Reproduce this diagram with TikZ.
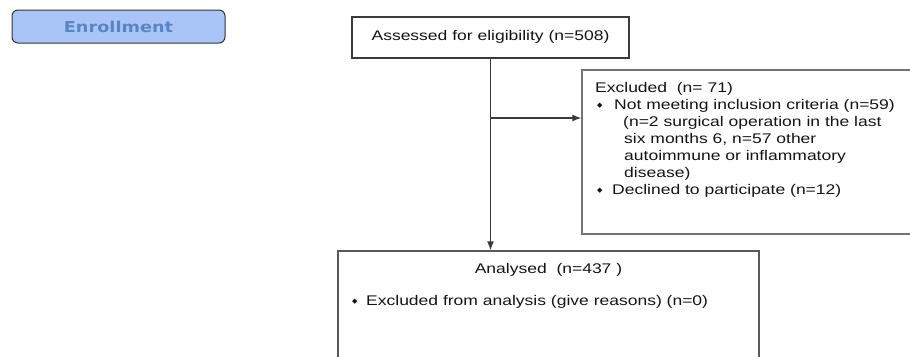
\documentclass[tikz,border=0pt]{standalone}
\usepackage{fontspec}
\usetikzlibrary{arrows.meta}
\setmainfont[FakeStretch=1.25]{Liberation Sans}
\newfontfamily\enrfont[FakeStretch=1.18]{DejaVu Sans}
\newfontfamily\djv{DejaVu Sans}
\newcommand\dbul{{\djv\fontsize{7}{7}\selectfont\raisebox{2pt}{◆}}}
\definecolor{enrfill}{HTML}{A9C5F7}
\definecolor{enrtext}{HTML}{5A84C3}
\definecolor{lineg}{HTML}{3A3A3A}
\begin{document}
\begin{tikzpicture}[x=1pt,y=-1pt,
  boxst/.style={draw=lineg,line width=1.2pt,rectangle,inner sep=0pt},
  txt/.style={anchor=base west,inner sep=0pt,font=\fontsize{14}{17}\selectfont,text=black!92},
  ctxt/.style={anchor=base,inner sep=0pt,font=\fontsize{14}{17}\selectfont,text=black!92},
  conn/.style={draw=lineg,line width=1.2pt},
  arr/.style={conn,-{Latex[length=9pt,width=7pt]}}]
\useasboundingbox (0,0) rectangle (910,356);
\clip (0,0) rectangle (910,356);
% Enrollment label
\node[draw=black!80,line width=1pt,fill=enrfill,rounded corners=6pt,minimum width=213pt,minimum height=33pt,inner sep=0pt,
      font=\enrfont\bfseries\fontsize{15}{15}\selectfont,text=enrtext] (enr) at (118.5,26.5) {Enrollment};
% boxes
\node[boxst,minimum width=277pt,minimum height=41pt] (assess) at (490.5,37.5) {};
\node[boxst,draw=black!55,line width=1.4pt,minimum width=338pt,minimum height=164pt] (excl) at (751,152) {};
\node[boxst,draw=black!65,minimum width=421pt,minimum height=119pt] (anal) at (548.5,310.5) {};
% texts
\node[ctxt] (t1) at (490.5,40) {Assessed\ for eligibility (n=508)};
\node[txt] (e1) at (595,92.5) {Excluded\ \ (n= 71)};
\node[txt] (e2) at (597,109.5) {\dbul};
\node[txt] (e3) at (614,109.5) {Not meeting inclusion criteria (n=59)};
\node[txt] (e4) at (623,126.5) {(n=2 surgical operation in the last};
\node[txt] (e5) at (624,143.5) {six months 6, n=57 other};
\node[txt] (e6) at (624,160.5) {autoimmune or inflammatory};
\node[txt] (e7) at (624,177.5) {disease)};
\node[txt] (e8) at (597,194.5) {\dbul};
\node[txt] (e9) at (612,194.5) {Declined to participate (n=12)};
\node[ctxt] (a1) at (548.5,273) {Analysed\ \ (n=437 )};
\node[txt] (a2) at (352,305) {\dbul};
\node[txt] (a3) at (366,305) {Excluded from analysis (give reasons) (n=0)};
% connectors
\coordinate (br) at (assess.south |- 0,118);
\draw[arr] (assess.south) -- (assess.south |- anal.north);
\draw[arr] (br) -- (br -| excl.west);
\end{tikzpicture}
\end{document}
